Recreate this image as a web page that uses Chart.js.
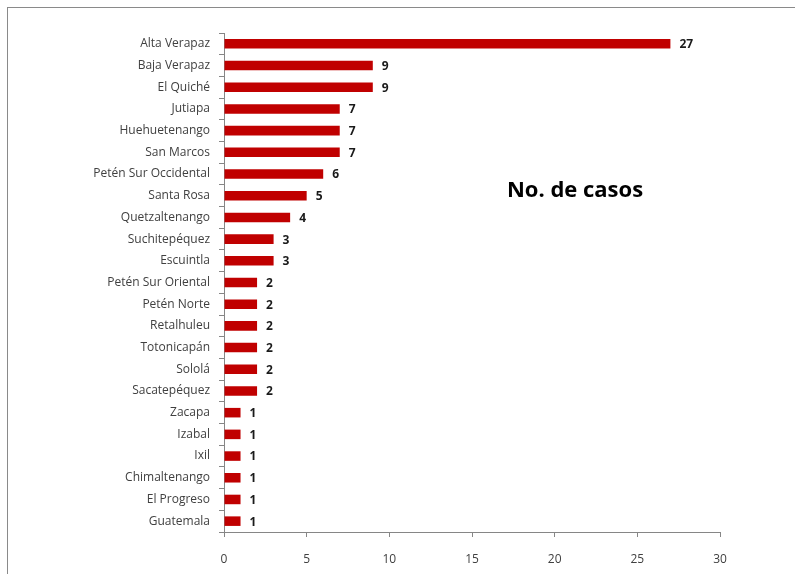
<!DOCTYPE html>
<html>
<head>
<meta charset="utf-8">
<script src="https://cdn.jsdelivr.net/npm/chart.js@4/dist/chart.umd.min.js"></script>
<style>
  html, body { margin: 0; padding: 0; background: #fff; }
  #wrap { position: relative; width: 795px; height: 574px; overflow: hidden; }
  #frame { position: absolute; left: 7px; top: 7px; width: 800px; height: 600px;
           border-left: 1px solid #8a8a8a; border-top: 1px solid #8a8a8a; box-sizing: border-box; }
  canvas { position: absolute; left: 0; top: 0; }
</style>
</head>
<body>
<div id="wrap">
  <div id="frame"></div>
  <canvas id="c" width="795" height="574"></canvas>
</div>
<script>
const categories = ["Alta Verapaz", "Baja Verapaz", "El Quiché", "Jutiapa", "Huehuetenango", "San Marcos",
  "Petén Sur Occidental", "Santa Rosa", "Quetzaltenango", "Suchitepéquez", "Escuintla",
  "Petén Sur Oriental", "Petén Norte", "Retalhuleu", "Totonicapán", "Sololá", "Sacatepéquez",
  "Zacapa", "Izabal", "Ixil", "Chimaltenango", "El Progreso", "Guatemala"];
const casos = [27, 9, 9, 7, 7, 7, 6, 5, 4, 3, 3, 2, 2, 2, 2, 2, 2, 1, 1, 1, 1, 1, 1];
const titleText = "No. de casos";
const xMin = 0, xMax = 30, xStep = 5;

const FONT = "'Open Sans', 'Noto Sans', sans-serif";

const valueLabels = {
  id: 'valueLabels',
  afterDatasetsDraw(chart) {
    const ctx = chart.ctx;
    const meta = chart.getDatasetMeta(0);
    ctx.save();
    ctx.font = "bold 12px " + FONT;
    ctx.fillStyle = "#1a1a1a";
    ctx.textAlign = "left";
    ctx.textBaseline = "middle";
    meta.data.forEach((bar, i) => {
      ctx.fillText(String(casos[i]), bar.x + 9, bar.y + 1);
    });
    ctx.restore();
  }
};

const titlePlugin = {
  id: 'titlePlugin',
  afterDraw(chart) {
    const ctx = chart.ctx;
    ctx.save();
    ctx.font = "bold 22px " + FONT;
    ctx.fillStyle = "#000";
    ctx.textAlign = "center";
    ctx.textBaseline = "middle";
    ctx.fillText(titleText, 575, 191);
    ctx.restore();
  }
};

new Chart(document.getElementById('c'), {
  type: 'bar',
  data: {
    labels: categories,
    datasets: [{
      data: casos,
      backgroundColor: '#C00000',
      borderWidth: 0,
      barPercentage: 0.44,
      categoryPercentage: 1.0
    }]
  },
  options: {
    indexAxis: 'y',
    responsive: false,
    animation: false,
    layout: { padding: { top: 33, right: 75, left: 0, bottom: 0 } },
    plugins: { legend: { display: false }, tooltip: { enabled: false }, title: { display: false } },
    scales: {
      x: {
        min: xMin, max: xMax,
        afterFit(s) { s.height = 42; },
        border: { display: true, color: '#868686', width: 1 },
        grid: { display: true, drawOnChartArea: false, drawTicks: true, tickLength: 5, color: '#868686' },
        ticks: { stepSize: xStep, color: '#404040', font: { family: FONT, size: 12 }, padding: 15 }
      },
      y: {
        afterFit(s) { s.width = 224; },
        border: { display: true, color: '#868686', width: 1 },
        grid: { display: true, offset: true, drawOnChartArea: false, drawTicks: true, tickLength: 5, color: '#868686' },
        ticks: { color: '#404040', font: { family: FONT, size: 12 }, padding: 9, autoSkip: false }
      }
    }
  },
  plugins: [valueLabels, titlePlugin]
});
</script>
</body>
</html>
